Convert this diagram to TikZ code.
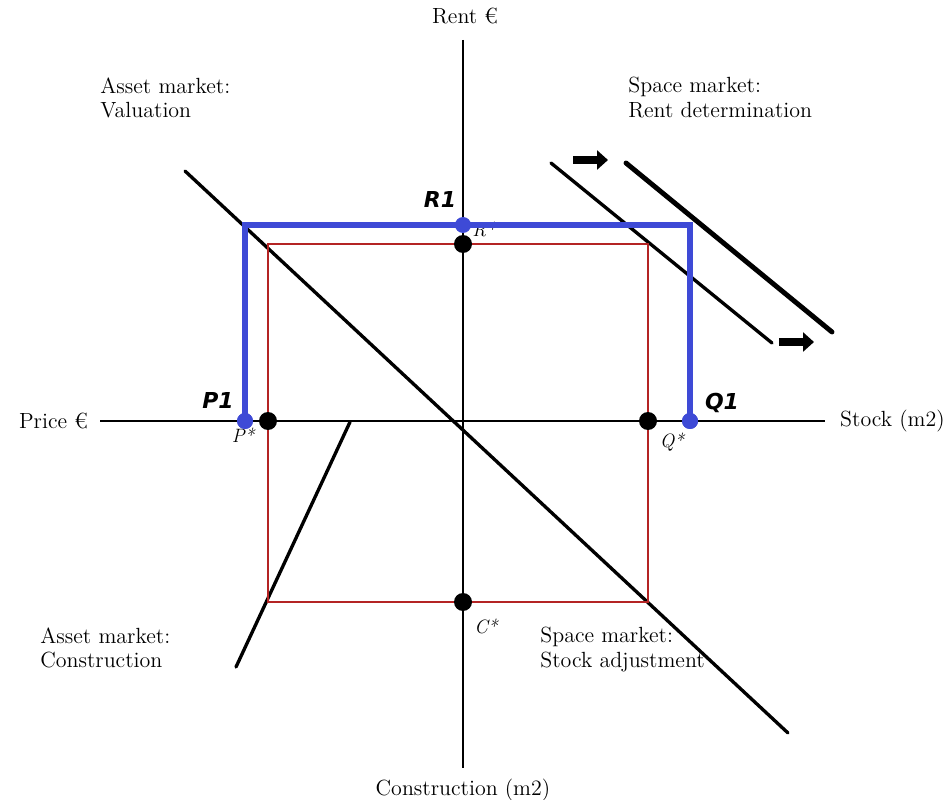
\documentclass[tikz,border=0pt]{standalone}
\usepackage{fontspec}
\newfontfamily\lblfont{DejaVu Sans}
\usetikzlibrary{arrows.meta,positioning}
\definecolor{pathblue}{RGB}{62,74,214}
\definecolor{boxred}{RGB}{180,36,36}
\tikzset{
  axis/.style={line width=0.8pt},
  eqline/.style={line width=1.9pt,line cap=round},
  dot/.style={circle,fill=black,inner sep=0pt,minimum size=0.36cm},
  bdot/.style={circle,fill=pathblue,inner sep=0pt,minimum size=0.32cm},
  mkt/.style={anchor=north west,align=left,inner sep=0pt,font=\fontsize{12.5}{13.8}\selectfont},
  axlbl/.style={font=\fontsize{12.5}{14}\selectfont},
  starlbl/.style={inner sep=0pt,font=\itshape\fontsize{11}{13}\selectfont},
  boldlbl/.style={inner sep=0pt,font=\lblfont\bfseries\itshape\fontsize{12.5}{15}\selectfont},
  shiftarr/.style={line width=5pt,-{Triangle[length=0.22cm,width=0.38cm]}}
}
\begin{document}
\begin{tikzpicture}[x=0.02cm,y=-0.02cm]
\useasboundingbox (0,0) rectangle (947,800);
% axes
\coordinate (top) at (463,40);
\coordinate (bot) at (463,768);
\coordinate (lft) at (100,421);
\coordinate (rgt) at (825,421);
\draw[axis] (top) -- (bot);
\draw[axis] (lft) -- (rgt);
\node[axlbl,anchor=south] (rent) at (465,30) {Rent €};
\node[axlbl,anchor=north] (constr) at (463,773) {Construction (m2)};
\node[axlbl,anchor=east] (price) at (94,421) {Price €};
\node[axlbl,anchor=west] (stock) at (834,421) {Stock (m2)};
% quadrant titles
\node[mkt] (val) at (100,77) {Asset market:\\Valuation};
\node[mkt] (rentdet) at (628,77) {Space market:\\Rent determination};
\node[mkt] (cons) at (40,627) {Asset market:\\Construction};
\node[mkt] (stadj) at (540,627) {Space market:\\Stock adjustment};
% market lines
\coordinate (v1) at (185,171);
\coordinate (v2) at (788,733);
\coordinate (c1) at (350,422);
\coordinate (c2) at (236,667);
\coordinate (d1) at (551,163);
\coordinate (d2) at (772,343);
\coordinate (e1) at (626,163);
\coordinate (e2) at (832,332);
\draw[eqline] (v1) -- (v2);
\draw[eqline] (c1) -- (c2);
\draw[eqline] (d1) -- (d2);
\draw[eqline,line width=2.8pt] (e1) -- (e2);
\coordinate (a1) at (573,160);
\coordinate (a2) at (608,160);
\coordinate (b1) at (779,342);
\coordinate (b2) at (814,342);
\draw[shiftarr] (a1) -- (a2);
\draw[shiftarr] (b1) -- (b2);
% equilibrium box
\coordinate (tl) at (268,244);
\coordinate (br) at (648,602);
\draw[boxred,line width=1.2pt] (tl) rectangle (br);
\node[dot] (rs) at (463,244) {};
\node[dot] (ps) at (268,421) {};
\node[dot] (qs) at (648,421) {};
\node[dot] (cs) at (463,602) {};
\node[starlbl] at (484,229) {R*};
\node[starlbl] at (243,435) {P*};
\node[starlbl] at (672,442) {Q*};
\node[starlbl] at (486,626) {C*};
% shifted path
\coordinate (pk) at (245,225);
\coordinate (qk) at (690,225);
\node[bdot] (p1) at (245,421) {};
\node[bdot] (q1) at (690,421) {};
\draw[pathblue,line width=3.2pt] (p1.center) -- (pk) -- (qk) -- (q1.center);
\node[bdot] (r1) at (463,225) {};
\node[bdot] at (p1) {};
\node[bdot] at (q1) {};
\node[boldlbl] at (440,199) {R1};
\node[boldlbl] at (218,400) {P1};
\node[boldlbl] at (722,403) {Q1};
\end{tikzpicture}
\end{document}
